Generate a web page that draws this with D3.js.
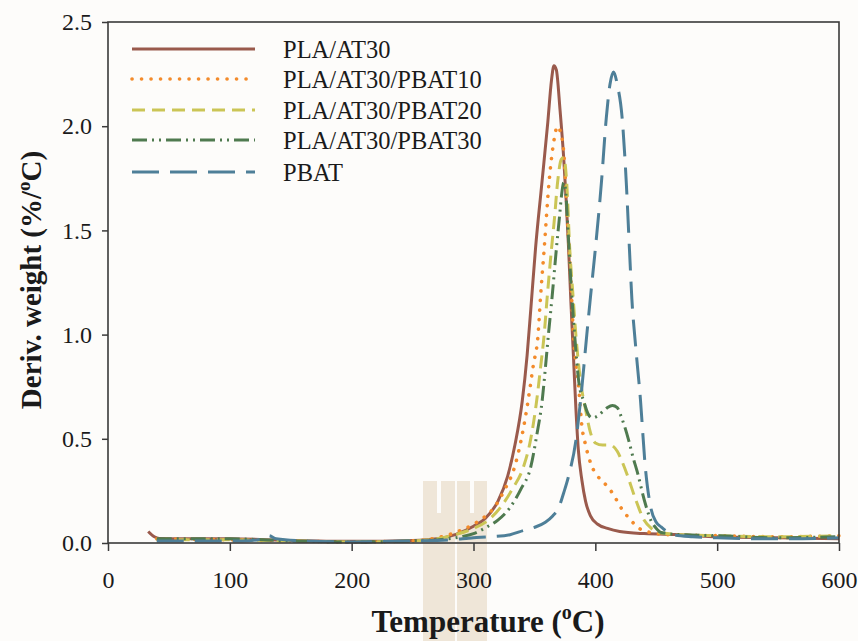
<!DOCTYPE html>
<html>
<head>
<meta charset="utf-8">
<script src="https://cdn.jsdelivr.net/npm/d3@7"></script>
<style>
  html, body { margin: 0; padding: 0; background: #fdfcfa; }
  svg { display: block; }
  svg text { font-family: "Liberation Serif", "Tinos", "Times New Roman", "DejaVu Serif", "Noto Serif", serif; fill: #1a1a1a; }
</style>
</head>
<body>
<svg id="chart" width="858" height="641"></svg>
<script>
// DTG curves: [temperature °C, derivative weight %/°C]
const plaAt30 = [[33,0.055],[38,0.03],[42,0.022],[60,0.02],[100,0.02],[150,0.012],[200,0.008],[250,0.012],[270,0.02],[285,0.04],[300,0.08],[310,0.12],[320,0.2],[328,0.32],[334,0.47],[340,0.68],[344,0.9],[347,1.12],[351,1.42],[356,1.72],[361,2.02],[364,2.22],[366,2.29],[368,2.27],[371,2.08],[374,1.85],[376,1.65],[378,1.42],[380,1.15],[382,0.9],[384,0.65],[386,0.45],[389,0.3],[392,0.2],[396,0.13],[402,0.09],[410,0.07],[420,0.055],[440,0.045],[470,0.04],[500,0.03],[550,0.025],[600,0.02]];
const plaAt30Pbat10 = [[40,0.02],[100,0.015],[150,0.01],[200,0.005],[250,0.01],[270,0.025],[285,0.05],[300,0.09],[310,0.13],[317,0.17],[325,0.25],[334,0.37],[340,0.52],[345,0.69],[349,0.85],[353,1.0],[355,1.18],[358,1.41],[362,1.73],[366,1.93],[369,2.0],[371,1.98],[374,1.88],[377,1.56],[380,1.25],[382,1.0],[386,0.77],[389,0.56],[392,0.47],[397,0.37],[402,0.32],[407,0.29],[414,0.24],[421,0.17],[429,0.11],[436,0.07],[442,0.055],[460,0.04],[500,0.035],[550,0.03],[600,0.035]];
const plaAt30Pbat20 = [[40,0.015],[100,0.015],[150,0.01],[200,0.005],[250,0.01],[270,0.02],[285,0.04],[300,0.07],[310,0.1],[322,0.17],[332,0.26],[341,0.365],[347,0.5],[352,0.69],[355,0.84],[358,1.0],[360.5,1.18],[364,1.41],[366.5,1.56],[369,1.73],[372,1.84],[374,1.85],[376.5,1.73],[379,1.41],[381.5,1.2],[384,1.0],[388,0.77],[392,0.64],[396,0.53],[400,0.48],[406,0.47],[412,0.47],[418,0.44],[422,0.39],[426,0.33],[433,0.21],[440,0.11],[446,0.07],[452,0.05],[470,0.04],[500,0.035],[550,0.03],[600,0.035]];
const plaAt30Pbat30 = [[40,0.02],[100,0.02],[150,0.01],[200,0.005],[250,0.01],[270,0.015],[290,0.03],[300,0.045],[311,0.077],[320,0.11],[330,0.17],[339,0.26],[347,0.365],[352,0.52],[356.5,0.69],[359,0.84],[361.5,1.0],[364.5,1.18],[368,1.41],[370.5,1.56],[372.5,1.68],[374,1.73],[375.5,1.7],[377,1.56],[380,1.25],[383,1.0],[386.5,0.77],[390.5,0.68],[394,0.62],[397.5,0.6],[402,0.61],[406,0.63],[410,0.65],[414,0.66],[418,0.65],[421,0.61],[424,0.56],[427.5,0.49],[431,0.41],[434.5,0.34],[440,0.21],[445.5,0.11],[450,0.07],[454,0.05],[470,0.04],[500,0.035],[550,0.025],[600,0.03]];
const pbat = [[40,0.01],[80,0.01],[110,0.01],[128,0.02],[132,0.035],[138,0.02],[160,0.01],[200,0.005],[250,0.01],[280,0.015],[300,0.025],[314,0.03],[330,0.04],[341,0.06],[350,0.075],[359,0.1],[365,0.13],[370,0.17],[374,0.24],[378,0.32],[384,0.49],[388,0.69],[393,1.0],[396,1.18],[400,1.41],[405,1.73],[409,2.04],[412,2.2],[415,2.26],[418,2.2],[422,2.04],[425.4,1.73],[428,1.41],[430,1.17],[433,0.95],[437,0.69],[441,0.365],[445.5,0.17],[450,0.1],[454,0.077],[464,0.04],[480,0.03],[500,0.025],[530,0.02],[560,0.02],[600,0.025]];

const seriesNames = ["PLA/AT30", "PLA/AT30/PBAT10", "PLA/AT30/PBAT20", "PLA/AT30/PBAT30", "PBAT"];
const seriesData = [plaAt30, plaAt30Pbat10, plaAt30Pbat20, plaAt30Pbat30, pbat];
const xTicks = [0, 100, 200, 300, 400, 500, 600];
const yTicks = [0.0, 0.5, 1.0, 1.5, 2.0, 2.5];

const serif = '"Liberation Serif", "Tinos", "Times New Roman", "DejaVu Serif", "Noto Serif", serif';

// line styles per series
const styles = [
  { color: "#9a5a4c", width: 3, dash: null, cap: "butt" },
  { color: "#f38b2b", width: 3.6, dash: "0.1 9.4", cap: "round" },
  { color: "#cbc555", width: 3, dash: "13 7", cap: "butt" },
  { color: "#4f7a4f", width: 3, dash: "15 5 2 5 2 5", cap: "butt" },
  { color: "#4e7f98", width: 3, dash: "27 11", cap: "butt" }
];

const svg = d3.select("#chart");
const plot = { left: 108, right: 839, top: 22, bottom: 543 };

const x = d3.scaleLinear().domain([0, 600]).range([plot.left, plot.right]);
const y = d3.scaleLinear().domain([0, 2.5]).range([plot.bottom, plot.top]);

// faint institutional watermark behind the lower axis area
const wm = svg.append("g").attr("fill", "#efe6d8");
wm.append("rect").attr("x", 423).attr("y", 481).attr("width", 32).attr("height", 160);
wm.append("rect").attr("x", 457).attr("y", 481).attr("width", 30).attr("height", 160);
wm.append("rect").attr("x", 437).attr("y", 481).attr("width", 4).attr("height", 32).attr("fill", "#fdfcfa");
wm.append("rect").attr("x", 470).attr("y", 481).attr("width", 4).attr("height", 32).attr("fill", "#fdfcfa");

// curves
const line = d3.line()
  .x(d => x(d[0]))
  .y(d => y(d[1]))
  .curve(d3.curveMonotoneX);

const curves = svg.append("g");
seriesData.forEach((data, i) => {
  const s = styles[i];
  curves.append("path")
    .datum(data)
    .attr("d", line)
    .attr("fill", "none")
    .attr("stroke", s.color)
    .attr("stroke-width", s.width)
    .attr("stroke-linecap", s.cap)
    .attr("stroke-linejoin", "round")
    .attr("stroke-dasharray", s.dash);
});

// frame
const frameColor = "#3a3a3a";
svg.append("rect")
  .attr("x", plot.left).attr("y", plot.top)
  .attr("width", plot.right - plot.left).attr("height", plot.bottom - plot.top)
  .attr("fill", "none").attr("stroke", frameColor).attr("stroke-width", 1.6);

// axes
const xAxis = svg.append("g")
  .attr("transform", `translate(0,${plot.bottom})`)
  .call(d3.axisBottom(x).tickValues(xTicks).tickSize(8).tickPadding(20).tickFormat(d3.format("d")));
const yAxis = svg.append("g")
  .attr("transform", `translate(${plot.left},0)`)
  .call(d3.axisLeft(y).tickValues(yTicks).tickSize(6).tickPadding(10).tickFormat(d3.format(".1f")));

[xAxis, yAxis].forEach(g => {
  g.attr("font-family", serif);
  g.select(".domain").remove();
  g.selectAll(".tick line").attr("stroke", frameColor).attr("stroke-width", 1.5);
  g.selectAll(".tick text")
    .style("font-family", serif)
    .attr("font-size", 24)
    .attr("fill", "#1a1a1a");
});

// axis titles
const xTitle = svg.append("text")
  .attr("x", 488).attr("y", 632)
  .attr("text-anchor", "middle")
  .style("font-family", serif)
  .attr("font-size", 31).attr("font-weight", "bold");
xTitle.append("tspan").text("Temperature (");
xTitle.append("tspan").attr("font-size", 20).attr("dy", -13).text("o");
xTitle.append("tspan").attr("dy", 13).text("C)");

const yTitle = svg.append("text")
  .attr("transform", "translate(41,280) rotate(-90)")
  .attr("text-anchor", "middle")
  .style("font-family", serif)
  .attr("font-size", 29).attr("font-weight", "bold");
yTitle.append("tspan").text("Deriv. weight (%/");
yTitle.append("tspan").attr("font-size", 19).attr("dy", -11).text("o");
yTitle.append("tspan").attr("dy", 11).text("C)");

// legend
const legendY = [49, 79, 110, 140, 172];
const legend = svg.append("g");
seriesNames.forEach((name, i) => {
  const s = styles[i];
  legend.append("line")
    .attr("x1", 132).attr("x2", 255)
    .attr("y1", legendY[i]).attr("y2", legendY[i])
    .attr("stroke", s.color)
    .attr("stroke-width", s.width)
    .attr("stroke-linecap", s.cap)
    .attr("stroke-dasharray", s.dash);
  legend.append("text")
    .attr("x", 283).attr("y", legendY[i])
    .attr("dy", "0.35em")
    .style("font-family", serif)
    .attr("font-size", 24.5)
    .text(name);
});
</script>
</body>
</html>
